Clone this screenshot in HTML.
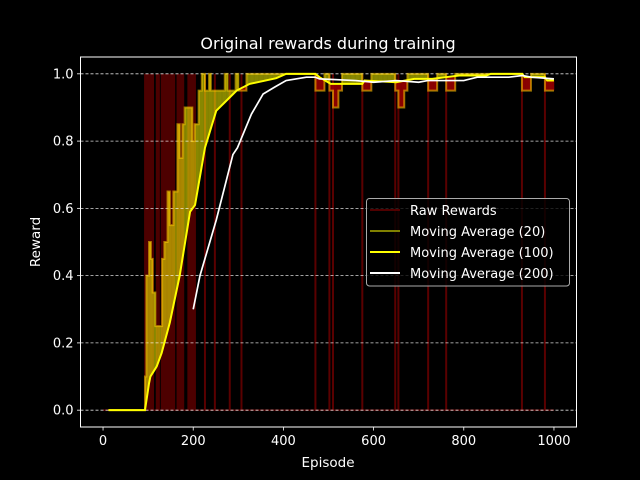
<!DOCTYPE html>
<html><head><meta charset="utf-8"><style>
html,body{margin:0;padding:0;background:#000;}
svg{display:block;font-family:"DejaVu Sans","Liberation Sans",sans-serif;}
</style></head><body>
<svg id="chart" width="640" height="480" viewBox="0 0 640 480">
<rect x="0" y="0" width="640" height="480" fill="#000"/>
<text x="328" y="49" fill="#fff" font-size="16" text-anchor="middle">Original rewards during training</text>
<text x="328" y="467" fill="#fff" font-size="13.5" text-anchor="middle">Episode</text>
<text x="40" y="242" fill="#fff" font-size="13.5" text-anchor="middle" transform="rotate(-90 40 242)">Reward</text>
<g id="plot"></g>
</svg>
<script>
// ---- data ----
const xTicks = [0, 200, 400, 600, 800, 1000];
const yTicks = [0.0, 0.2, 0.4, 0.6, 0.8, 1.0];
const yTickLabels = ["0.0", "0.2", "0.4", "0.6", "0.8", "1.0"];
// raw rewards: ranges of episodes with reward 1 during early training
const rawOneStart = [91, 117, 128, 163, 187];
const rawOneEnd = [113, 126, 160, 180, 206];
// isolated episodes with reward 0 after convergence
const rawZeroEpisodes = [226, 248, 281, 307, 471, 502, 510, 575, 648, 655, 721, 761, 929, 980];
// moving average (20): step values
const ma20X = [12, 93, 96, 102, 106, 110, 116, 131, 136, 143, 148, 156, 165, 170, 176, 181, 196, 198, 203, 212, 219, 226, 235, 239, 270, 276, 294, 300, 318, 471, 491, 502, 510, 522, 530, 575, 595, 648, 655, 668, 675, 721, 741, 761, 781, 929, 949, 980, 1000];
const ma20Y = [0, 0.1, 0.4, 0.5, 0.45, 0.35, 0.25, 0.45, 0.5, 0.65, 0.55, 0.65, 0.85, 0.75, 0.85, 0.9, 0.9, 0.8, 0.85, 0.95, 1.0, 0.95, 1.0, 0.95, 1.0, 0.95, 1.0, 0.95, 1.0, 0.95, 1.0, 0.95, 0.9, 0.95, 1.0, 0.95, 1.0, 0.95, 0.9, 0.95, 1.0, 0.95, 1.0, 0.95, 1.0, 0.95, 1.0, 0.95, 0.95];
// moving average (100)
const ma100X = [12, 93, 102, 105, 119, 130, 148, 170, 193, 204, 226, 251, 281, 296, 325, 384, 406, 471, 480, 505, 575, 580, 650, 690, 730, 760, 790, 850, 860, 930, 935, 980, 985, 1000];
const ma100Y = [0, 0, 0.08, 0.1, 0.13, 0.17, 0.26, 0.4, 0.59, 0.61, 0.78, 0.89, 0.93, 0.95, 0.97, 0.987, 1.0, 1.0, 0.99, 0.97, 0.97, 0.98, 0.975, 0.985, 0.985, 0.99, 0.995, 0.995, 1.0, 1.0, 0.99, 0.99, 0.98, 0.98];
// moving average (200)
const ma200X = [200, 215, 251, 288, 298, 329, 355, 380, 406, 451, 471, 480, 560, 600, 650, 700, 720, 800, 830, 900, 930, 950, 1000];
const ma200Y = [0.30, 0.40, 0.565, 0.76, 0.78, 0.88, 0.94, 0.96, 0.98, 0.99, 0.99, 0.985, 0.98, 0.975, 0.98, 0.975, 0.98, 0.98, 0.99, 0.99, 0.995, 0.99, 0.985];

// ---- axes ----
const X0 = 80.5, X1 = 576.5, Y0 = 57, Y1 = 427;
const XMIN = -50, XMAX = 1050, YMIN = -0.05, YMAX = 1.05;
const sx = v => X0 + (v - XMIN) / (XMAX - XMIN) * (X1 - X0);
const sy = v => Y1 - (v - YMIN) / (YMAX - YMIN) * (Y1 - Y0);
const NS = "http://www.w3.org/2000/svg";
const plot = document.getElementById('plot');
function mk(tag, attrs, parent) {
  const e = document.createElementNS(NS, tag);
  for (const k in attrs) e.setAttribute(k, attrs[k]);
  (parent || plot).appendChild(e);
  return e;
}
function ma20At(ep) {
  let v = null;
  for (let i = 0; i < ma20X.length; i++) { if (ma20X[i] <= ep) v = ma20Y[i]; }
  return v;
}
function ma100At(ep) {
  if (ep < ma100X[0]) return null;
  for (let i = 0; i < ma100X.length - 1; i++) {
    if (ep >= ma100X[i] && ep <= ma100X[i + 1]) {
      const t = (ep - ma100X[i]) / (ma100X[i + 1] - ma100X[i]);
      return ma100Y[i] + t * (ma100Y[i + 1] - ma100Y[i]);
    }
  }
  return ma100Y[ma100Y.length - 1];
}

// raw rewards
const rawG = mk('g', {});


const rawBase = mk('line', {x1: sx(0), x2: sx(1000), y1: sy(0), y2: sy(0), stroke: '#8b0000', 'stroke-opacity': 0.6, 'stroke-width': 1.5}, rawG);


for (let i = 0; i < rawOneStart.length; i++) {
  const r = mk('rect', {x: sx(rawOneStart[i]), y: sy(1), width: sx(rawOneEnd[i]) - sx(rawOneStart[i]), height: sy(0) - sy(1), fill: '#4d0000'}, rawG);
  
  
}
for (const ep of rawZeroEpisodes) {
  const l = mk('line', {x1: sx(ep), x2: sx(ep), y1: sy(1), y2: sy(0), stroke: '#5a0000', 'stroke-width': 2}, rawG);
  
  
}

// fill between ma20 and ma100
const fillG = mk('g', {});


for (let ep = 12; ep < 1000; ep++) {
  const a = ma20At(ep), b = ma100At(ep);
  if (a === null || b === null) continue;
  const top = Math.max(a, b), bot = Math.min(a, b);
  if (top - bot < 0.002) continue;
  const above = a >= b;
  const r = mk('rect', {x: sx(ep), y: sy(top), width: sx(ep + 1) - sx(ep) + 0.3, height: sy(bot) - sy(top),
    fill: above ? '#ffff00' : '#a00000', 'fill-opacity': above ? 0.38 : 0.75}, fillG);
  
  
}

// grid + ticks
for (let i = 0; i < yTicks.length; i++) {
  const y = sy(yTicks[i]);
  const g = mk('line', {x1: X0, x2: X1, y1: y, y2: y, stroke: '#fff', 'stroke-width': 0.8, 'stroke-dasharray': '3,2', 'stroke-opacity': 0.85});
  
  
  const t = mk('line', {x1: X0 - 3.5, x2: X0, y1: y, y2: y, stroke: '#fff', 'stroke-width': 0.8});
  
  
  const lb = mk('text', {x: X0 - 7, y: y + 4.5, fill: '#fff', 'font-size': 13, 'text-anchor': 'end'});
  lb.textContent = yTickLabels[i];
  
  
}
for (const v of xTicks) {
  const x = sx(v);
  const t = mk('line', {x1: x, x2: x, y1: Y1, y2: Y1 + 3.5, stroke: '#fff', 'stroke-width': 0.8});
  
  
  const lb = mk('text', {x: x, y: Y1 + 18, fill: '#fff', 'font-size': 13, 'text-anchor': 'middle'});
  lb.textContent = String(v);
  
  
}

// ma20 step line
let d20 = '';
for (let i = 0; i < ma20X.length; i++) {
  const x = sx(ma20X[i]), y = sy(ma20Y[i]);
  if (i === 0) d20 = 'M' + x + ',' + y;
  else d20 += ' L' + x + ',' + sy(ma20Y[i - 1]) + ' L' + x + ',' + y;
}
const l20 = mk('path', {d: d20, fill: 'none', stroke: '#ffd000', 'stroke-opacity': 0.55, 'stroke-width': 2});



const d100 = ma100X.map((v, i) => (i ? 'L' : 'M') + sx(v) + ',' + sy(ma100Y[i])).join(' ');
const l100 = mk('path', {d: d100, fill: 'none', stroke: '#ffff00', 'stroke-width': 2});



const d200 = ma200X.map((v, i) => (i ? 'L' : 'M') + sx(v) + ',' + sy(ma200Y[i])).join(' ');
const l200 = mk('path', {d: d200, fill: 'none', stroke: '#ffffff', 'stroke-width': 1.7});



// frame
const fr = mk('rect', {x: X0, y: Y0, width: X1 - X0, height: Y1 - Y0, fill: 'none', stroke: '#fff', 'stroke-width': 1});



// legend
const lg = mk('g', {});


mk('rect', {x: 366.5, y: 198.5, width: 203, height: 87.5, rx: 3, fill: '#000', 'fill-opacity': 0.8, stroke: '#aaa', 'stroke-width': 1}, lg);
const legNames = ['Raw Rewards', 'Moving Average (20)', 'Moving Average (100)', 'Moving Average (200)'];
const legColors = ['#6a0000', '#808000', '#ffff00', '#ffffff'];
for (let i = 0; i < legNames.length; i++) {
  const y = 210 + i * 21;
  const e = mk('g', {}, lg);
  
  
  mk('line', {x1: 370, x2: 400, y1: y, y2: y, stroke: legColors[i], 'stroke-width': i === 0 ? 1.5 : 2}, e);
  const t = mk('text', {x: 410, y: y + 5, fill: '#fff', 'font-size': 13}, e);
  t.textContent = legNames[i];
}
</script>
</body></html>
